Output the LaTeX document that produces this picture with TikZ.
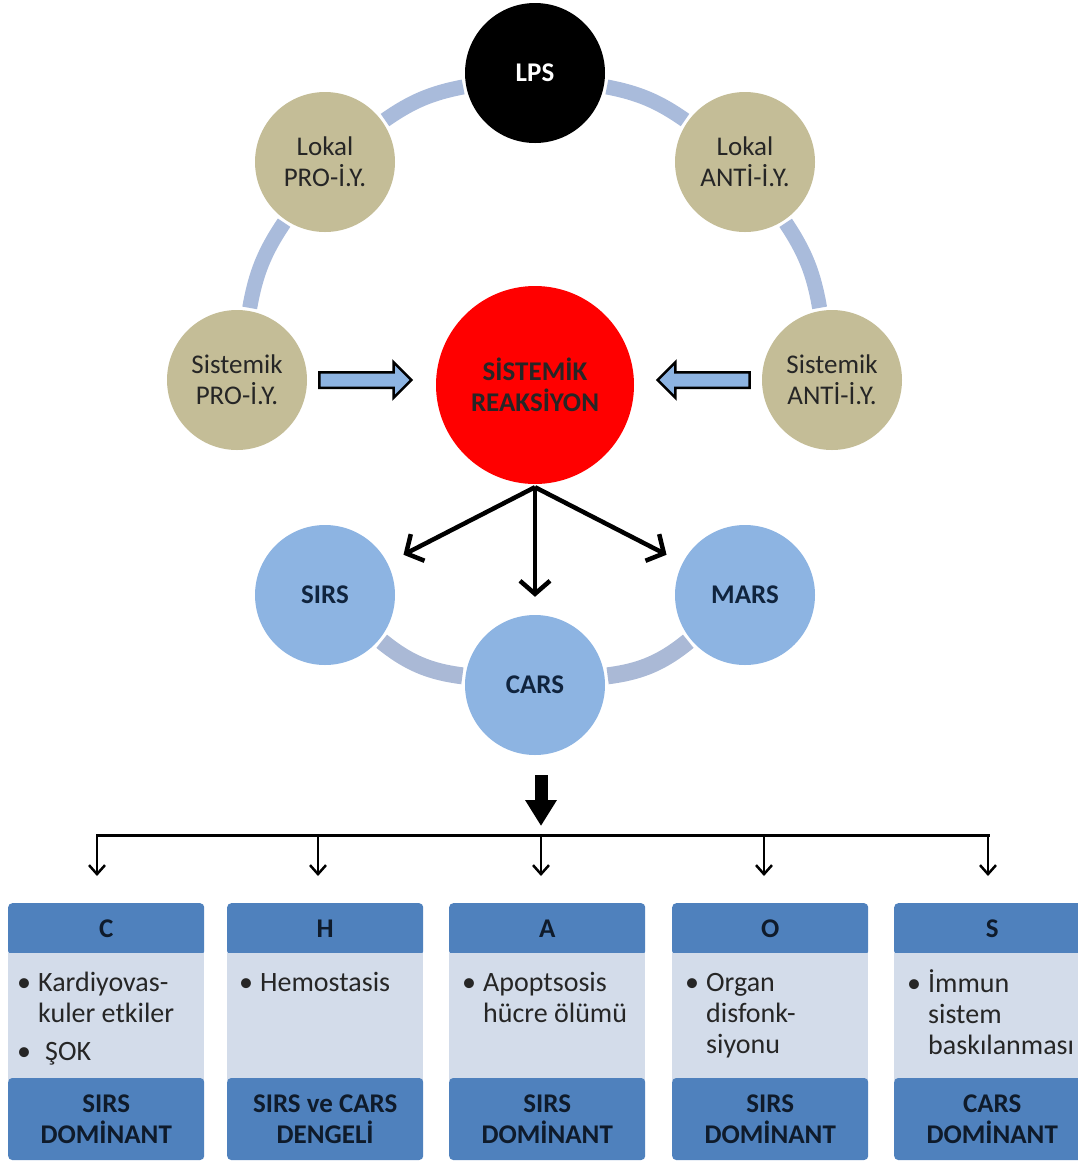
\documentclass[tikz,border=0pt]{standalone}
\usepackage{fontspec}
\setmainfont{Carlito}
\usetikzlibrary{positioning,arrows.meta,calc,shapes.arrows}
\definecolor{tanbg}{HTML}{C4BD97}
\definecolor{ringblue}{RGB}{169,187,219}
\definecolor{ringgrey}{RGB}{170,185,214}
\definecolor{circblue}{HTML}{8DB4E2}
\definecolor{navytext}{HTML}{10243E}
\definecolor{boxblue}{HTML}{4F81BD}
\definecolor{boxbody}{RGB}{211,220,234}
\definecolor{boxtext}{HTML}{0F1B2B}
\tikzset{
  bftxt/.style={font=\fontsize{27}{31}\selectfont\bfseries},
  blockarr/.style={single arrow,draw=black,line width=2.5pt,fill=circblue,minimum height=92pt,
    inner sep=6.5pt,single arrow head extend=10pt,single arrow head indent=0pt},
  hdr/.style={rectangle,anchor=north west,fill=boxblue,rounded corners=4pt,minimum width=196pt,
    minimum height=52pt,inner sep=0pt,text=boxtext,bftxt},
  bodybox/.style={rectangle,fill=boxbody,minimum width=196pt,minimum height=128pt,inner sep=0pt},
  ftr/.style={rectangle,fill=boxblue,rounded corners=4pt,minimum width=196pt,minimum height=82pt,
    inner sep=0pt,align=center,text=boxtext,bftxt},
  bullets/.style={anchor=north west,inner sep=0pt,text=black!85,font=\fontsize{28}{31}\selectfont}
}
\begin{document}
\begin{tikzpicture}[x=1pt,y=1pt]
    \useasboundingbox (0,0) rectangle (1078,-1163);
    \begin{scope}[every node/.style={circle,minimum size=140pt,inner sep=0pt,align=center,text=black!85,font=\fontsize{27}{31}\selectfont}]
    \node[fill=black,text=white,bftxt] (lps) at (535,-73) {LPS};
    \node[fill=tanbg] (lpro) at (325,-162) {Lokal\\PRO-İ.Y.};
    \node[fill=tanbg] (lanti) at (745,-162) {Lokal\\ANTİ-İ.Y.};
    \node[fill=tanbg] (spro) at (237,-380) {Sistemik\\PRO-İ.Y.};
    \node[fill=tanbg] (santi) at (832,-380) {Sistemik\\ANTİ-İ.Y.};
    \node[fill=red,minimum size=198pt,bftxt] (sr) at (535,-385) {SİSTEMİK\\REAKSİYON};
    \node[fill=circblue,text=navytext,bftxt] (sirs) at (325,-595) {SIRS};
    \node[fill=circblue,text=navytext,bftxt] (cars) at (535,-685) {CARS};
    \node[fill=circblue,text=navytext,bftxt] (mars) at (745,-595) {MARS};
    \end{scope}
    % ring segments
    \begin{scope}[every edge/.style={draw=ringblue,line width=15pt,shorten <=3pt,shorten >=3pt}]
    \path (lps) edge[bend right=12] (lpro);
    \path (lpro) edge[bend right=12] (spro);
    \path (lps) edge[bend left=12] (lanti);
    \path (lanti) edge[bend left=12] (santi);
    \end{scope}
    \begin{scope}[every edge/.style={draw=ringgrey,line width=17pt,shorten <=3pt,shorten >=3pt}]
    \path (sirs) edge[bend right=16] (cars);
    \path (cars) edge[bend right=16] (mars);
    \end{scope}
    \node[blockarr,right=11pt of spro] (proarr) {};
    \node[blockarr,shape border rotate=180,left=11pt of santi] (antiarr) {};
    \coordinate (src) at ($(sr.south)+(0,-3)$);
    \begin{scope}[every edge/.style={draw=black,line width=4.5pt,-{Straight Barb[length=13pt,width=30pt]},shorten >=18pt}]
    \path (src) edge (sirs);
    \path (src) edge (cars);
    \path (src) edge (mars);
    \end{scope}
    % boxes
    \node[hdr] (h1) at (8,-903) {C};
    \node[bodybox,below=-3pt of h1] (b1) {};
    \node[ftr,below=-3pt of b1] (f1) {SIRS\\DOMİNANT};
    \node[hdr] (h2) at (227,-903) {H};
    \node[bodybox,below=-3pt of h2] (b2) {};
    \node[ftr,below=-3pt of b2] (f2) {SIRS ve CARS\\DENGELİ};
    \node[hdr] (h3) at (449,-903) {A};
    \node[bodybox,below=-3pt of h3] (b3) {};
    \node[ftr,below=-3pt of b3] (f3) {SIRS\\DOMİNANT};
    \node[hdr] (h4) at (672,-903) {O};
    \node[bodybox,below=-3pt of h4] (b4) {};
    \node[ftr,below=-3pt of b4] (f4) {SIRS\\DOMİNANT};
    \node[hdr] (h5) at (894,-903) {S};
    \node[bodybox,below=-3pt of h5] (b5) {};
    \node[ftr,below=-3pt of b5] (f5) {CARS\\DOMİNANT};
    \node[bullets] (t1) at ($(b1.north west)+(9,-17)$) {\begin{tabular}{@{}p{21pt}@{}l@{}}•&Kardiyovas-\\&kuler etkiler\\[7pt]•&\hspace{7pt}ŞOK\end{tabular}};
    \node[bullets] (t2) at ($(b2.north west)+(12,-17)$) {\begin{tabular}{@{}p{21pt}@{}l@{}}•&Hemostasis\end{tabular}};
    \node[bullets] (t3) at ($(b3.north west)+(13,-17)$) {\begin{tabular}{@{}p{21pt}@{}l@{}}•&Apoptsosis\\&hücre ölümü\end{tabular}};
    \node[bullets] (t4) at ($(b4.north west)+(13,-17)$) {\begin{tabular}{@{}p{21pt}@{}l@{}}•&Organ\\&disfonk-\\&siyonu\end{tabular}};
    \node[bullets] (t5) at ($(b5.north west)+(13,-17)$) {\begin{tabular}{@{}p{21pt}@{}l@{}}•&İmmun\\&sistem\\&baskılanması\end{tabular}};
    % distribution bar
    \coordinate (hub) at (541,-826);
    \draw[line width=13pt,-{Triangle[length=26pt,width=30pt]}] ($(cars.south)+(6,-20)$) -- (hub);
    \coordinate (p1) at (97,-835);
    \coordinate (p2) at (318,-835);
    \coordinate (p3) at (541,-835);
    \coordinate (p4) at (764,-835);
    \coordinate (p5) at (988,-835);
    \draw[line width=3pt,line cap=rect] (p1) -- (p5);
    \begin{scope}[every edge/.style={draw=black,line width=2.5pt,-{Straight Barb[length=9pt,width=16pt]},shorten >=27pt}]
    \path (p1) edge (p1 |- h1.north);
    \path (p2) edge (p2 |- h2.north);
    \path (p3) edge (p3 |- h3.north);
    \path (p4) edge (p4 |- h4.north);
    \path (p5) edge (p5 |- h5.north);
    \end{scope}
\end{tikzpicture}
\end{document}
